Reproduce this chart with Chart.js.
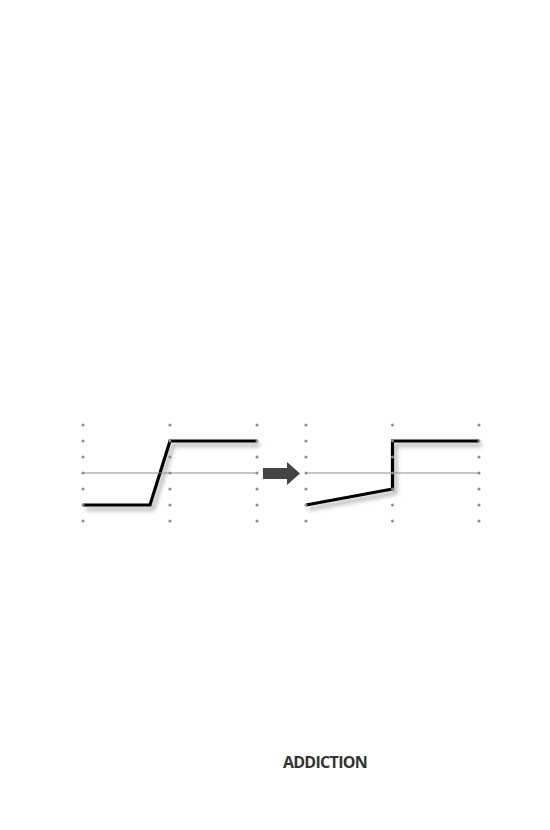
<!DOCTYPE html>
<html>
<head>
<meta charset="utf-8">
<script src="https://cdn.jsdelivr.net/npm/chart.js@4.4.0/dist/chart.umd.min.js"></script>
<style>
  body { margin: 0; background: #fff; }
  #wrap { position: relative; width: 550px; height: 830px; }
  canvas { position: absolute; }
  #left { left: 73px; top: 415px; }
  #arrow { left: 258px; top: 455px; }
  #right { left: 296px; top: 415px; }
  #title {
    position: absolute; left: 0; width: 650px; top: 751px;
    text-align: center; font-family: "Open Sans", sans-serif; font-weight: 700;
    font-size: 16px; letter-spacing: -0.7px; color: #333;
  }
</style>
</head>
<body>
<div id="wrap">
  <canvas id="left" width="194" height="116"></canvas>
  <canvas id="arrow" width="46" height="36"></canvas>
  <canvas id="right" width="193" height="116"></canvas>
  <div id="title">ADDICTION</div>
</div>
<script>
// grid ticks
var xTicks = [0, 1, 2];
var yTicks = [-3, -2, -1, 0, 1, 2, 3];

// before: smooth step
var beforeX = [0, 0.77, 1, 2];
var beforeY = [-2, -2, 2, 2];

// after: slow rise then jump
var afterX = [0, 1, 1, 2];
var afterY = [-2, -1, 2, 2];

function toPoints(xs, ys) {
  return xs.map(function (x, i) { return {x: x, y: ys[i]}; });
}

var gridDots = [];
xTicks.forEach(function (x) {
  yTicks.forEach(function (y) { gridDots.push({x: x, y: y}); });
});

// shadow under the black line
var shadowPlugin = {
  id: 'shadow',
  beforeDatasetDraw: function (chart, args) {
    if (args.index !== 2) return;
    var ctx = chart.ctx;
    ctx.save();
    ctx.shadowColor = 'rgba(0,0,0,0.35)';
    ctx.shadowOffsetX = 3;
    ctx.shadowOffsetY = 4;
    ctx.shadowBlur = 4;
  },
  afterDatasetDraw: function (chart, args) {
    if (args.index !== 2) return;
    chart.ctx.restore();
  }
};

function makeChart(id, xs, ys) {
  return new Chart(id, {
    type: 'scatter',
    data: {
      datasets: [{
        data: gridDots,
        pointRadius: 1.5,
        pointBackgroundColor: '#8a8a8a',
        pointBorderWidth: 0,
        showLine: false,
        clip: false
      }, {
        data: [{x: xTicks[0], y: 0}, {x: xTicks[xTicks.length - 1], y: 0}],
        showLine: true,
        borderColor: '#8c8c8c',
        borderWidth: 1,
        pointRadius: 0,
        clip: false
      }, {
        data: toPoints(xs, ys),
        showLine: true,
        borderColor: '#000',
        borderWidth: 3.2,
        borderJoinStyle: 'miter',
        pointRadius: 0,
        tension: 0,
        clip: false
      }]
    },
    options: {
      responsive: false,
      animation: false,
      devicePixelRatio: 1,
      layout: {padding: 10},
      plugins: {legend: {display: false}, tooltip: {enabled: false}},
      scales: {
        x: {type: 'linear', min: 0, max: 2, display: false},
        y: {min: -3, max: 3, display: false}
      }
    },
    plugins: [shadowPlugin]
  });
}

makeChart('left', beforeX, beforeY);
makeChart('right', afterX, afterY);

// block arrow between the two panels
var actx = document.getElementById('arrow').getContext('2d');
actx.fillStyle = '#444';
actx.beginPath();
actx.moveTo(5, 13);
actx.lineTo(29, 13);
actx.lineTo(29, 7);
actx.lineTo(42, 18.5);
actx.lineTo(29, 30);
actx.lineTo(29, 24);
actx.lineTo(5, 24);
actx.closePath();
actx.fill();
</script>
</body>
</html>
